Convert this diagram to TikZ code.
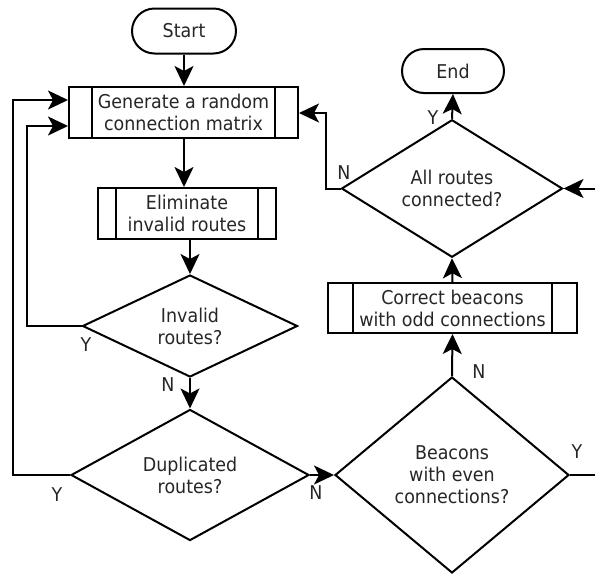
\documentclass[tikz,border=0pt]{standalone}
\usepackage{fontspec}
\setmainfont{DejaVu Sans}[FakeStretch=0.92]
\usetikzlibrary{shapes.geometric,shapes.misc,arrows.meta}
\begin{document}
\begin{tikzpicture}[x=1pt,y=-1pt,
  every node/.style={font=\fontsize{19pt}{22pt}\selectfont, text=black!85},
  conn/.style={line width=2pt, draw=black},
  arr/.style={conn, -{Stealth[length=20pt,width=19pt,inset=5pt]}},
  term/.style={draw, line width=2pt, rounded rectangle, inner sep=0pt},
  proc/.style={draw, line width=2pt, rectangle, inner sep=0pt, align=center,
    path picture={
      \draw[line width=2pt] ([xshift=#1]path picture bounding box.north west) -- ([xshift=#1]path picture bounding box.south west);
      \draw[line width=2pt] ([xshift=-#1]path picture bounding box.north east) -- ([xshift=-#1]path picture bounding box.south east);}},
  dec/.style={draw, line width=2pt, diamond, inner sep=0pt, align=center},
  lab/.style={inner sep=0pt}
]
\useasboundingbox (0,0) rectangle (595,574);

\node[term, minimum width=104pt, minimum height=45pt] (start) at (184,31) {Start};
\node[proc=23pt, minimum width=229pt, minimum height=51pt] (gen) at (183.5,112.5) {Generate a random\\connection matrix};
\node[proc=18pt, minimum width=178pt, minimum height=51pt] (elim) at (187,213.5) {Eliminate\\invalid routes};
\node[dec, minimum width=215pt, minimum height=102pt] (inval) at (190,326) {Invalid\\routes?};
\node[dec, minimum width=238pt, minimum height=124pt] (dup) at (190,475) {Duplicated\\routes?};
\node[dec, minimum width=234pt, minimum height=196pt] (beac) at (452,475) {Beacons\\with even\\connections?};
\node[proc=25pt, minimum width=249pt, minimum height=50pt] (corr) at (452.5,308) {Correct beacons\\with odd connections};
\node[dec, minimum width=221pt, minimum height=133pt] (allr) at (452,188.5) {All routes\\connected?};
\node[term, minimum width=102pt, minimum height=44pt] (end) at (453,71) {End};

\coordinate (l1a) at (27,326);
\coordinate (l1b) at (27,126);
\coordinate (l2a) at (13,475);
\coordinate (l2b) at (13,100);
\coordinate (rin) at (596,188.5);
\coordinate (rout) at (596,475);
\coordinate (r3a) at (326,188.5);
\coordinate (r3b) at (326,113);

\draw[arr] (start.south) -- (start.south |- gen.north);
\draw[arr] (gen.south -| start.south) -- (start.south |- elim.north);
\draw[arr] (inval.north |- elim.south) -- (inval.north);
\draw[arr] (inval.south) -- (dup.north);
\draw[arr] (inval.west) -- (l1a) -- (l1b) -- (l1b -| gen.west);
\draw[arr] (dup.west) -- (l2a) -- (l2b) -- (l2b -| gen.west);
\draw[arr] (dup.east) -- (beac.west);
\draw[arr] (beac.north) -- (corr.south);
\draw[conn] (beac.east) -- (rout);
\draw[arr] (corr.north) -- (allr.south);
\draw[arr] (rin) -- (allr.east);
\draw[arr] (allr.west) -- (r3a) -- (r3b) -- (r3b -| gen.east);
\draw[arr] (allr.north) -- (end.south);

\node[lab] (y1) at (86,345) {Y};
\node[lab] (n1) at (168,385) {N};
\node[lab] (y2) at (57,495) {Y};
\node[lab] (n2) at (316,493) {N};
\node[lab] (n3) at (479,372) {N};
\node[lab] (y3) at (577,452) {Y};
\node[lab] (n4) at (344,173) {N};
\node[lab] (y4) at (433,118) {Y};
\end{tikzpicture}
\end{document}
